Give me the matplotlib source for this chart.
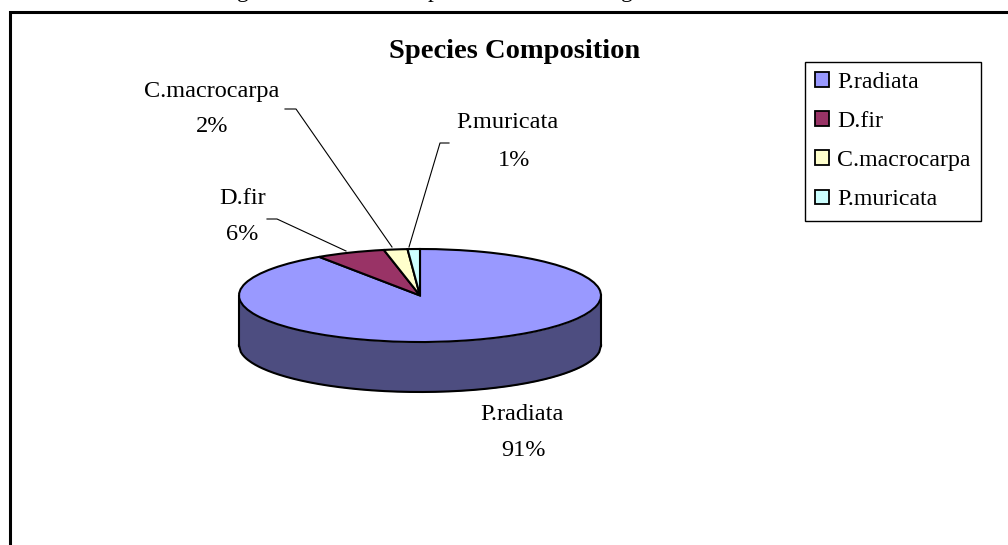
import numpy as np
import matplotlib
matplotlib.use("Agg")
import matplotlib.pyplot as plt
from matplotlib.patches import Patch

species = ["P.radiata", "D.fir", "C.macrocarpa", "P.muricata"]
shares = [90.6, 6.2, 2.1, 1.1]
colours = ["#9999FF", "#993366", "#FFFFCC", "#CCFFFF"]
wall_colour = "#4D4D80"

plt.rcParams["font.family"] = ["Liberation Serif", "DejaVu Serif"]

W, H = 1008, 545
fig = plt.figure(figsize=(W / 100, H / 100), dpi=100, facecolor="white")

# pixel overlay for the frame, leaders and text
page = fig.add_axes([0, 0, 1, 1], zorder=2)
page.set_xlim(0, W)
page.set_ylim(H, 0)
page.axis("off")
page.patch.set_alpha(0)

# the pie is squashed into an ellipse by its own axes
x0, x1, y0, y1, depth = 239, 601, 249, 342, 50
ax = fig.add_axes([x0 / W, 1 - (y1 + depth) / H, (x1 - x0) / W, (y1 + depth - y0) / H])
wedges, _ = ax.pie(
    shares,
    colors=colours,
    startangle=90,
    counterclock=False,
    wedgeprops={"edgecolor": "black", "linewidth": 1.5, "zorder": 3},
)
d = 2 * depth / (y1 - y0)
ax.set_aspect("auto")
ax.set_xlim(-1, 1)
ax.set_ylim(-1 - d, 1)
for w in wedges:
    w.set_clip_on(False)

# side wall
xs = np.linspace(-1, 1, 200)
front = -np.sqrt(1 - xs**2)
ax.fill_between(xs, front - d, front, color=wall_colour, zorder=1, lw=0)
ax.plot(xs, front - d, color="black", lw=1.5, zorder=2, clip_on=False)
ax.plot([-1, -1], [0, -d], color="black", lw=1.5, zorder=2, clip_on=False)
ax.plot([1, 1], [0, -d], color="black", lw=1.5, zorder=2, clip_on=False)

# frame, cut off by the page
page.plot([9.5, 9.5, W], [H, 11.5, 11.5], color="black", lw=2.2, solid_joinstyle="miter")

# caption descenders at the very top of the crop
for cx, ch in [(243, "g"), (433, "p"), (627, "g")]:
    page.text(cx, -3, ch, fontsize=17, ha="center", va="baseline", clip_on=False)

page.text(515, 51, "Species Composition", fontsize=20.5, fontweight="bold", ha="center", va="center")

label_xy = [(522, 415, 524, 450), (243, 199, 242, 234), (212, 91, 212, 126), (507, 123, 514, 160)]
for name, v, (nx, ny, px, py) in zip(species, shares, label_xy):
    page.text(nx, ny, name, fontsize=17.5, ha="center", va="center")
    page.text(px, py, f"{round(v)}%", fontsize=17.5, ha="center", va="center")

for lx, ly in [
    ([267, 277, 346], [219, 219, 251]),
    ([285, 296, 392], [109, 109, 247]),
    ([449, 440, 409], [143, 143, 247]),
]:
    page.plot(lx, ly, color="black", lw=0.8)

handles = [Patch(facecolor=c, edgecolor="black", linewidth=1.3) for c in colours]
page.legend(
    handles,
    species,
    loc="upper left",
    bbox_to_anchor=(805 / W, 1 - 62 / H),
    borderaxespad=0,
    frameon=True,
    fancybox=False,
    framealpha=1,
    edgecolor="black",
    fontsize=17.2,
    handlelength=0.58,
    handleheight=0.58,
    handletextpad=0.34,
    labelspacing=0.76,
    borderpad=0.42,
)

fig.savefig("out.png", dpi=100)
